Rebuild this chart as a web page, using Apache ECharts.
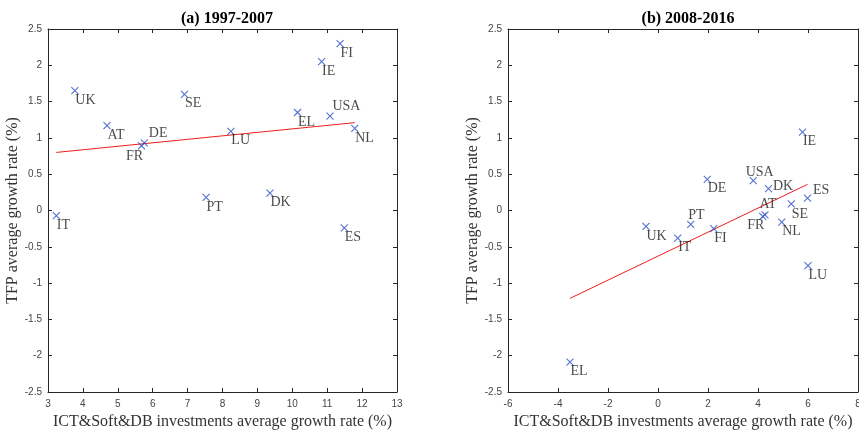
<!DOCTYPE html>
<html>
<head>
<meta charset="utf-8">
<script src="https://cdn.jsdelivr.net/npm/echarts@6/dist/echarts.min.js"></script>
<style>
  html, body { margin: 0; padding: 0; background: #fff; }
  #chart { width: 859px; height: 430px; }
</style>
</head>
<body>
<div id="chart"></div>
<script>
// (a) 1997-2007
const countriesA = ['UK', 'AT', 'FR', 'DE', 'SE', 'PT', 'LU', 'DK', 'EL', 'IE', 'FI', 'USA', 'NL', 'IT', 'ES']
const ictA = [3.77, 4.69, 5.68, 5.76, 6.91, 7.53, 8.24, 9.36, 10.15, 10.84, 11.37, 11.08, 11.79, 3.24, 11.49]
const tfpA = [1.65, 1.17, 0.89, 0.93, 1.60, 0.18, 1.09, 0.24, 1.35, 2.05, 2.30, 1.30, 1.13, -0.07, -0.24]
const fitA = [[3.24, 0.80], [11.79, 1.21]]

// (b) 2008-2016
const countriesB = ['IE', 'USA', 'DE', 'DK', 'ES', 'SE', 'AT', 'FR', 'NL', 'PT', 'UK', 'IT', 'FI', 'LU', 'EL']
const ictB = [5.78, 3.81, 1.97, 4.42, 5.98, 5.33, 4.28, 4.19, 4.95, 1.31, -0.48, 0.79, 2.23, 6.0, -3.52]
const tfpB = [1.08, 0.41, 0.43, 0.30, 0.17, 0.09, -0.06, -0.08, -0.16, -0.19, -0.22, -0.38, -0.25, -0.76, -2.09]
const fitB = [[-3.52, -1.21], [5.98, 0.36]]

const xTicksA = { min: 3, max: 13, interval: 1 }
const xTicksB = { min: -6, max: 8, interval: 2 }
const yTicks = { min: -2.5, max: 2.5, interval: 0.5 }

// label offsets (px from marker centre), default below-right
const labelOffA = { DE: [5, -16], FR: [-15, 4], USA: [3, -16] }
const labelOffB = { PT: [-2, -15], USA: [-7, -15], DK: [5, -9], ES: [6, -14], AT: [-5, -17], FR: [-15, 3], SE: [1, 4] }

const SYM = 7
const axisColor = '#262626'
const serif = '"Liberation Serif", "Times New Roman", serif'

function points(names, xs, ys, offs) {
  return names.map((n, i) => {
    const o = offs[n] || [1, 3]
    return {
      name: n,
      value: [xs[i], ys[i]],
      label: { position: [SYM / 2 + o[0], SYM / 2 + o[1]] }
    }
  })
}

function xAx(idx, ticks, pos, showName) {
  return {
    gridIndex: idx, type: 'value', position: pos, ...ticks,
    axisLine: { onZero: false, lineStyle: { color: axisColor, width: 1 } },
    axisTick: { inside: true, length: 4, lineStyle: { color: axisColor } },
    axisLabel: { show: pos === 'bottom', color: '#444', fontSize: 10, fontFamily: 'Liberation Sans, Arial', margin: 7 },
    splitLine: { show: false },
    name: showName ? 'ICT&Soft&DB investments average growth rate (%)' : '',
    nameLocation: 'middle', nameGap: 21,
    nameTextStyle: { fontFamily: serif, fontSize: 16, color: '#333', verticalAlign: 'top' }
  }
}

function yAx(idx, pos, showName) {
  return {
    gridIndex: idx, type: 'value', position: pos, ...yTicks,
    axisLine: { onZero: false, lineStyle: { color: axisColor, width: 1 } },
    axisTick: { inside: true, length: 4, lineStyle: { color: axisColor } },
    axisLabel: { show: pos === 'left', color: '#444', fontSize: 10, fontFamily: 'Liberation Sans, Arial', margin: 6 },
    splitLine: { show: false },
    name: showName ? 'TFP average growth rate (%)' : '',
    nameLocation: 'middle', nameGap: 22,
    nameTextStyle: { fontFamily: serif, fontSize: 16, color: '#333' }
  }
}

function scatter(idx, data) {
  return {
    type: 'scatter', xAxisIndex: idx * 2, yAxisIndex: idx * 2,
    symbol: 'path://M0,0L10,10M10,0L0,10', symbolSize: SYM,
    itemStyle: { color: 'rgba(0,0,0,0)', borderColor: '#2b4fc4', borderWidth: 1.1 },
    label: { show: true, formatter: '{b}', fontFamily: serif, fontSize: 14, color: '#1a1a1a' },
    emphasis: { disabled: true },
    data: data, z: 3
  }
}

function fit(idx, data) {
  return {
    type: 'line', xAxisIndex: idx * 2, yAxisIndex: idx * 2,
    data: data, symbol: 'none', lineStyle: { color: '#ee1c1c', width: 1 }, z: 2
  }
}

const chart = echarts.init(document.getElementById('chart'), null, { renderer: 'canvas' })
chart.setOption({
  animation: false,
  title: [
    { text: '(a) 1997-2007', left: 222, top: 6, textAlign: 'center',
      textStyle: { fontFamily: serif, fontSize: 16, fontWeight: 'bold', color: '#000' } },
    { text: '(b) 2008-2016', left: 683, top: 6, textAlign: 'center',
      textStyle: { fontFamily: serif, fontSize: 16, fontWeight: 'bold', color: '#000' } }
  ],
  grid: [
    { left: 48, right: 462, top: 29, bottom: 38, outerBoundsMode: 'none', containLabel: false },
    { left: 508, right: 1, top: 29, bottom: 38, outerBoundsMode: 'none', containLabel: false }
  ],
  xAxis: [
    xAx(0, xTicksA, 'bottom', true), xAx(0, xTicksA, 'top', false),
    xAx(1, xTicksB, 'bottom', true), xAx(1, xTicksB, 'top', false)
  ],
  yAxis: [
    yAx(0, 'left', true), yAx(0, 'right', false),
    yAx(1, 'left', true), yAx(1, 'right', false)
  ],
  series: [
    fit(0, fitA),
    scatter(0, points(countriesA, ictA, tfpA, labelOffA)),
    fit(1, fitB),
    scatter(1, points(countriesB, ictB, tfpB, labelOffB))
  ]
})
</script>
</body>
</html>
